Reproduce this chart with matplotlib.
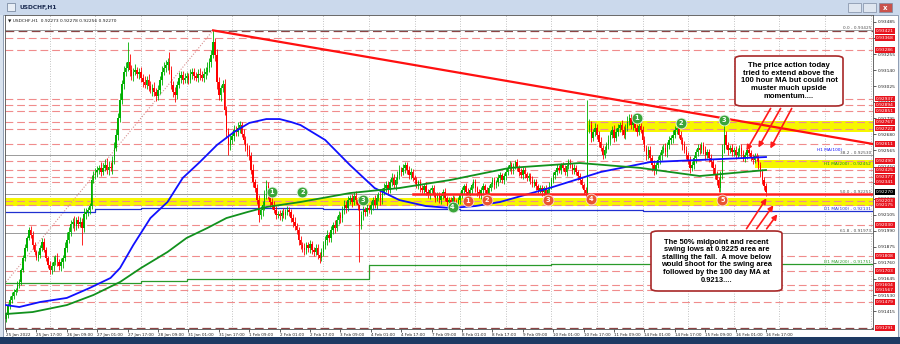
import matplotlib
matplotlib.use("Agg")
import matplotlib.pyplot as plt
import numpy as np
from matplotlib.patches import Rectangle, FancyBboxPatch, FancyArrowPatch
from matplotlib.transforms import blended_transform_factory

W, H = 900, 344

# ---- data: H1 candles, prices in 1e-5 units, one row per trading day ----
open0 = 91360
closes_by_day = [
    [91387, 91458, 91494, 91523, 91551, 91566, 91602, 91623, 91709, 91795, 91867, 91938, 91996, 91960, 91888, 91838,
     91795, 91817, 91867, 91910, 91852, 91795, 91745],
    [91709, 91738, 91766, 91795, 91766, 91738, 91766, 91795, 91867, 91924, 91981, 92039, 92053, 92024, 92067, 92039,
     92053, 92010, 92110, 92124, 92139, 92167, 92354, 92389],
    [92411, 92425, 92440, 92411, 92440, 92461, 92425, 92447, 92440, 92497, 92583, 92676, 92798, 92926, 93041, 93127,
     93156, 93199, 93141, 93098, 93127, 93141, 93113, 93127],
    [93084, 93055, 93034, 93070, 93027, 92998, 93012, 92984, 92955, 92998, 93070, 93127, 93156, 93177, 93199, 93141,
     93034, 92984, 92962, 93034, 93084, 93106, 93070, 93084],
    [93098, 93070, 93113, 93127, 93098, 93084, 93113, 93106, 93084, 93113, 93127, 93156, 93199, 93249, 93342, 93249,
     93055, 92962, 93012, 93041, 92855, 92697, 92604, 92640],
    [92669, 92712, 92697, 92726, 92747, 92683, 92640, 92597, 92568, 92525, 92425, 92339, 92296, 92210, 92103, 92139,
     92175, 92246, 92311, 92246, 92196, 92175, 92139, 92103],
    [92110, 92096, 92117, 92103, 92124, 92139, 92124, 92081, 92053, 92024, 91996, 91924, 91888, 91867, 91852, 91888,
     91867, 91895, 91852, 91838, 91867, 91816, 91795, 91838],
    [91888, 91924, 91960, 91938, 91996, 92031, 92010, 92067, 92103, 92081, 92139, 92175, 92153, 92210, 92225, 92196,
     92240, 92210, 92175, 92031, 92103, 92139, 92124, 92153],
    [92139, 92175, 92210, 92175, 92225, 92246, 92210, 92268, 92296, 92318, 92282, 92339, 92368, 92318, 92353, 92389,
     92425, 92411, 92440, 92461, 92425, 92389, 92411, 92368],
    [92353, 92318, 92339, 92296, 92282, 92311, 92268, 92246, 92282, 92296, 92253, 92225, 92246, 92210, 92240, 92268,
     92225, 92196, 92210, 92182, 92225, 92196, 92175, 92210],
    [92246, 92282, 92311, 92268, 92240, 92282, 92318, 92339, 92296, 92268, 92246, 92282, 92311, 92282, 92253, 92296,
     92325, 92353, 92318, 92339, 92368, 92389, 92353, 92382],
    [92411, 92440, 92461, 92425, 92454, 92482, 92440, 92411, 92389, 92425, 92396, 92368, 92382, 92353, 92325, 92339,
     92311, 92282, 92296, 92268, 92296, 92253, 92282, 92311],
    [92353, 92389, 92411, 92440, 92425, 92461, 92440, 92411, 92454, 92482, 92461, 92425, 92440, 92411, 92382, 92353,
     92318, 92282, 92261, 92712, 92747, 92654, 92697, 92726],
    [92676, 92626, 92583, 92533, 92569, 92604, 92640, 92676, 92712, 92654, 92697, 92726, 92747, 92712, 92676, 92726,
     92769, 92798, 92747, 92783, 92726, 92697, 92740, 92712],
    [92640, 92583, 92533, 92569, 92511, 92461, 92425, 92461, 92497, 92533, 92569, 92583, 92554, 92604, 92640, 92654,
     92676, 92712, 92726, 92676, 92640, 92604, 92569, 92533],
    [92497, 92440, 92461, 92511, 92554, 92583, 92569, 92604, 92569, 92533, 92554, 92511, 92482, 92440, 92389, 92353,
     92296, 92389, 92569, 92676, 92604, 92569, 92583, 92554],
    [92569, 92533, 92554, 92583, 92540, 92511, 92533, 92569, 92547, 92518, 92497, 92525, 92511, 92461, 92411, 92353,
     92310, 92270],
]
wick_hi_by_day = [
    [20, 15, 30, 25, 20, 15, 25, 20, 15, 20, 30, 15, 20, 25, 30, 20, 15, 25, 20, 30, 25, 20, 15],
    [30, 25, 40, 20, 35, 25, 30, 20, 45, 60, 35, 30, 25, 40, 20, 30, 35, 25, 45, 30, 20, 25, 35, 30],
    [25, 30, 20, 40, 35, 45, 50, 40, 35, 30, 45, 40, 35, 50, 30, 40, 45, 143, 60, 35, 30, 40, 25, 30],
    [35, 30, 40, 25, 45, 35, 30, 40, 25, 35, 30, 40, 45, 35, 30, 71, 30, 25, 35, 30, 40, 25, 30, 35],
    [30, 25, 35, 30, 25, 30, 35, 40, 30, 45, 35, 40, 30, 35, 83, 30, 40, 35, 25, 30, 35, 25, 30, 35],
    [30, 35, 25, 40, 30, 25, 35, 30, 25, 35, 30, 40, 25, 30, 35, 25, 30, 35, 43, 25, 30, 35, 30, 25],
    [25, 30, 20, 35, 25, 30, 20, 25, 30, 35, 25, 20, 30, 25, 35, 20, 25, 30, 20, 25, 30, 25, 20, 30],
    [30, 25, 35, 20, 30, 25, 35, 30, 25, 20, 30, 35, 25, 30, 20, 25, 30, 35, 25, 40, 30, 25, 20, 30],
    [25, 30, 20, 35, 30, 25, 40, 30, 35, 25, 30, 20, 35, 30, 25, 30, 35, 25, 30, 20, 25, 30, 25, 20],
    [20, 25, 15, 25, 20, 15, 25, 20, 15, 20, 25, 15, 20, 25, 15, 20, 25, 15, 20, 25, 20, 15, 20, 25],
    [20, 25, 15, 20, 25, 20, 15, 25, 20, 15, 20, 25, 20, 15, 25, 20, 15, 25, 20, 15, 25, 20, 15, 20],
    [25, 20, 30, 25, 20, 15, 25, 20, 30, 25, 20, 15, 25, 20, 30, 25, 20, 15, 25, 20, 15, 25, 20, 25],
    [20, 25, 15, 25, 20, 15, 25, 20, 15, 25, 20, 15, 25, 20, 15, 25, 20, 15, 20, 214, 40, 30, 25, 35],
    [30, 25, 35, 20, 30, 25, 35, 30, 25, 35, 30, 25, 20, 35, 30, 25, 40, 30, 25, 30, 35, 25, 30, 20],
    [25, 30, 20, 25, 30, 20, 35, 25, 30, 20, 25, 30, 35, 25, 30, 20, 35, 30, 25, 30, 25, 20, 30, 25],
    [20, 25, 30, 25, 20, 25, 30, 20, 25, 30, 20, 25, 30, 20, 25, 30, 20, 30, 40, 122, 30, 25, 20, 25],
    [20, 25, 30, 20, 25, 30, 20, 25, 30, 20, 25, 20, 25, 20, 25, 20, 25, 20],
]
wick_lo_by_day = [
    [23, 20, 25, 20, 25, 20, 15, 25, 20, 15, 20, 25, 15, 20, 25, 20, 15, 20, 25, 20, 15, 20, 25],
    [25, 30, 35, 20, 25, 30, 35, 40, 25, 30, 20, 25, 30, 35, 25, 30, 20, 122, 30, 35, 25, 30, 20, 25],
    [30, 35, 25, 30, 20, 25, 30, 35, 25, 40, 30, 25, 35, 30, 25, 35, 30, 25, 40, 30, 35, 25, 30, 35],
    [30, 35, 25, 30, 35, 25, 40, 30, 35, 25, 30, 35, 25, 30, 35, 25, 30, 35, 50, 30, 25, 35, 30, 25],
    [35, 30, 25, 35, 30, 25, 30, 35, 25, 30, 35, 25, 30, 35, 25, 40, 50, 35, 40, 30, 35, 40, 71, 35],
    [30, 35, 25, 30, 35, 25, 30, 35, 40, 30, 25, 35, 30, 25, 50, 30, 40, 35, 30, 25, 35, 30, 25, 30],
    [25, 30, 35, 25, 30, 20, 25, 30, 35, 25, 30, 35, 25, 30, 35, 25, 30, 35, 25, 30, 20, 30, 35, 25],
    [30, 25, 35, 30, 25, 30, 35, 25, 30, 35, 25, 30, 35, 25, 30, 35, 25, 30, 35, 264, 30, 35, 25, 30],
    [25, 30, 35, 25, 30, 25, 35, 30, 25, 30, 35, 25, 30, 25, 35, 30, 25, 30, 25, 35, 30, 25, 30, 25],
    [25, 20, 30, 25, 20, 30, 25, 20, 30, 25, 20, 30, 25, 20, 30, 25, 20, 30, 25, 20, 30, 25, 20, 25],
    [25, 20, 30, 25, 20, 25, 30, 20, 25, 30, 20, 25, 30, 20, 25, 30, 20, 25, 30, 20, 25, 30, 20, 25],
    [30, 25, 20, 25, 30, 20, 25, 30, 20, 25, 30, 20, 25, 30, 20, 25, 30, 20, 25, 30, 20, 25, 30, 20],
    [25, 20, 30, 25, 20, 30, 25, 20, 30, 25, 20, 30, 25, 20, 30, 25, 20, 30, 40, 30, 25, 30, 20, 25],
    [30, 35, 25, 30, 20, 25, 30, 35, 25, 30, 20, 25, 30, 35, 25, 30, 20, 25, 30, 35, 25, 30, 20, 25],
    [30, 25, 35, 30, 25, 40, 35, 30, 25, 30, 35, 25, 30, 35, 25, 30, 35, 25, 30, 25, 30, 35, 25, 30],
    [30, 35, 25, 30, 35, 25, 30, 25, 30, 35, 25, 30, 35, 40, 30, 35, 30, 25, 30, 25, 30, 35, 25, 30],
    [25, 30, 20, 25, 30, 20, 25, 30, 20, 25, 30, 25, 20, 30, 35, 30, 25, 30],
]

# hourly moving averages (bar index, price)
ma100_bar = [0, 7, 18, 32, 44, 55, 60, 67, 76, 85, 93, 102, 111, 120, 128, 137, 144, 150, 155, 168, 181, 194, 207,
             221, 234, 247, 260, 286, 313, 339, 365, 400]
ma100_val = [91458, 91444, 91480, 91509, 91580, 91652, 91723, 91888, 92081, 92196, 92368, 92482, 92604, 92697,
             92762, 92790, 92790, 92769, 92747, 92640, 92461, 92296, 92210, 92167, 92153, 92167, 92196, 92296, 92411,
             92482, 92497, 92518]
ma200_bar = [0, 14, 32, 46, 60, 71, 85, 95, 106, 116, 127, 137, 155, 181, 207, 234, 265, 302, 334, 365, 400]
ma200_val = [91394, 91408, 91458, 91530, 91623, 91723, 91838, 91938, 92010, 92081, 92124, 92160, 92196, 92260,
             92296, 92354, 92440, 92475, 92440, 92382, 92425]

day_start = [0, 23, 47, 71, 95, 119, 143, 167, 191, 215, 239, 263, 287, 311, 335, 359, 383, 407, 431, 455]
d1_ma100 = [92127, 92127, 92144, 92152, 92152, 92152, 92150, 92148, 92146, 92144, 92142, 92140, 92138, 92136,
            92134, 92132, 92131]
d1_ma200 = [91614, 91614, 91614, 91633, 91643, 91643, 91643, 91643, 91745, 91746, 91747, 91748, 91749, 91750,
            91750, 91751, 91751]

tick_bars = list(range(0, 401, 16))
tick_labels = ["25 Jan 2022", "25 Jan 17:00", "26 Jan 09:00", "27 Jan 01:00", "27 Jan 17:00", "28 Jan 09:00",
               "31 Jan 01:00", "31 Jan 17:00", "1 Feb 09:00", "2 Feb 01:00", "2 Feb 17:00", "3 Feb 09:00",
               "4 Feb 01:00", "4 Feb 17:00", "7 Feb 09:00", "8 Feb 01:00", "8 Feb 17:00", "9 Feb 09:00",
               "10 Feb 01:00", "10 Feb 17:00", "11 Feb 09:00", "14 Feb 01:00", "14 Feb 17:00", "15 Feb 09:00",
               "16 Feb 01:00", "16 Feb 17:00"]

price_ticks = [93485 - 115 * k for k in range(19)]
level_lines = [93368, 93286, 92937, 92894, 92851, 92767, 92722, 92611, 92490, 92425, 92377, 92341, 92203, 92175,
               92030, 91808, 91703, 91604, 91567, 91479]
dark_levels = [93421, 91291]
red_labels = level_lines + dark_levels
last_price = 92270

fib_levels = [93425, 92530, 92251, 91973]
fib_names = ["0.0", "38.2", "50.0", "61.8"]
fib_line = ([-33, 109], [91077, 93425])
trend_line = ([109, 456.5], [93425, 92611])
support_line = ([214, 456.5], [92251, 92251])

yellow_zones = [(306, 92775, 92700), (394, 92500, 92440), (-1, 92225, 92165)]

green_marks = [("1", 140, 92268), ("2", 156, 92268), ("3", 188, 92210), ("4", 235, 92160),
               ("1", 332, 92798), ("2", 355, 92762), ("3", 378, 92783)]
red_marks = [("1", 243, 92203), ("2", 253, 92210), ("3", 285, 92210), ("4", 308, 92218), ("5", 377, 92210)]

note_top = "The price action today\ntried to extend above the\n100 hour MA but could not\nmuster much upside\nmomentum...."
note_bot = ("The 50% midpoint and recent\nswing lows at 0.9225 area are\nstalling the fall.  A move below\n"
            "would shoot for the swing area\nfollowed by the 100 day MA at\n0.9213....")

# ---- figure ----
fig = plt.figure(figsize=(9, 3.44), dpi=100)
fig.patch.set_facecolor('#d9e3ef')


def frect(x0, y0, x1, y1, z=-5, **kw):
    fig.add_artist(Rectangle((x0 / W, 1 - y1 / H), (x1 - x0) / W, (y1 - y0) / H,
                             transform=fig.transFigure, zorder=z, **kw))


def fp(x, y):
    return (x / W, 1 - y / H)


frect(0, 0, 900, 15, fc='#cbd9ec', ec='none')
frect(3, 15, 898, 337, fc='white', ec='#8090a8', lw=0.6)
frect(0, 337, 900, 344, fc='#1e3a63', ec='none')
fig.text(*fp(20, 7.5), "USDCHF,H1", fontsize=4.3, color='#1a2a50', va='center', weight='bold')
frect(7, 3, 15, 11, fc='#e8eef6', ec='#6b7c96', lw=0.5)
for bx, col in [(848, '#dfe6f0'), (863, '#dfe6f0'), (879, '#c9524c')]:
    frect(bx, 3, bx + 13, 12, fc=col, ec='#7d8ba3', lw=0.5)
fig.text(*fp(885.5, 7.5), "x", fontsize=5, color='white', ha='center', va='center', weight='bold')

# chart area spans x 5..873 px, y 15..329 px
ax = fig.add_axes([5 / W, 1 - 329 / H, 868 / W, 314 / H])
ax.set_facecolor('white')
ax.set_xlim(-0.53, 456.3)
ax.set_ylim(0.912866, 0.935351)
for s in ax.spines.values():
    s.set_color('#505050')
    s.set_linewidth(0.6)

c = np.array(sum(closes_by_day, [])) / 1e5
o = np.r_[open0 / 1e5, c[:-1]]
hi = np.maximum(o, c) + np.array(sum(wick_hi_by_day, [])) / 1e5
lo = np.minimum(o, c) - np.array(sum(wick_lo_by_day, [])) / 1e5
x = np.arange(len(c))
cols = np.where(c >= o, '#00b000', '#ff0000')

for d in day_start[1:]:
    ax.axvline(d, color='#b0b0b0', lw=0.6, ls=(0, (1, 2)), zorder=0)

for x0, top, bot in yellow_zones:
    ax.add_patch(Rectangle((x0, bot / 1e5), 470 - x0, (top - bot) / 1e5, fc='#f6f600', ec='none', zorder=1))

for lv in level_lines:
    ax.axhline(lv / 1e5, color='#f08c8c', lw=0.8, ls=(0, (7, 3.5)), zorder=1.2)
for lv in dark_levels:
    ax.axhline(lv / 1e5, color='#8c4444', lw=0.9, ls=(0, (7, 3.5)), zorder=1.2)

for lv in fib_levels:
    ax.axhline(lv / 1e5, color='#9a9a9a', lw=0.7, zorder=1.3)
ax.plot(fib_line[0], np.array(fib_line[1]) / 1e5, color='#d89090', lw=0.8, ls=(0, (1, 1.5)), zorder=1.3)

ax.step(day_start[:len(d1_ma100)] + [457], np.array(d1_ma100 + d1_ma100[-1:]) / 1e5, where='post',
        color='#2030d0', lw=0.9, zorder=1.4)
ax.step(day_start[:len(d1_ma200)] + [457], np.array(d1_ma200 + d1_ma200[-1:]) / 1e5, where='post',
        color='#2a9a2a', lw=0.9, zorder=1.4)

ax.vlines(x, lo, hi, colors=cols, lw=0.6, zorder=2)
ax.bar(x, np.maximum(np.abs(c - o), 0.00002), bottom=np.minimum(o, c), width=0.75, color=cols, lw=0, zorder=2)

ax.plot(ma100_bar, np.array(ma100_val) / 1e5, color='#1010ff', lw=1.3, zorder=3)
ax.plot(ma200_bar, np.array(ma200_val) / 1e5, color='#11911d', lw=1.3, zorder=3)

ax.plot(trend_line[0], np.array(trend_line[1]) / 1e5, color='#ff1010', lw=1.6, zorder=3.2)
ax.plot(support_line[0], np.array(support_line[1]) / 1e5, color='#ff2020', lw=1.8, zorder=3.2)

for marks, fc, ec in [(green_marks, '#3aa53a', '#e8f5e8'), (red_marks, '#ea5532', '#fbe0d8')]:
    for t, bx, p in marks:
        ax.plot(bx, p / 1e5, 'o', ms=7.8, mfc=fc, mec=ec, mew=0.6, zorder=4)
        ax.text(bx, p / 1e5, t, color='white', fontsize=4.8, weight='bold', ha='center', va='center', zorder=5)

lab_x = 455.3
for lv, nm in zip(fib_levels, fib_names):
    ax.text(lab_x, lv / 1e5 + 0.00003, f"{nm} - {lv / 1e5:.5f}", fontsize=3.1, color='#505050',
            ha='right', va='bottom', zorder=5)
ax.text(440, 0.92552, "H1 MA(100)", fontsize=3.1, color='#1010ff', ha='right', va='bottom', zorder=5)
ax.text(lab_x, 0.92452, "H1 MA(200) - 0.92452", fontsize=3.1, color='#11911d', ha='right', va='bottom', zorder=5)
ax.text(lab_x, 0.92134, "D1 MA(100) - 0.92131", fontsize=3.1, color='#2030d0', ha='right', va='bottom', zorder=5)
ax.text(lab_x, 0.91754, "D1 MA(200) - 0.91751", fontsize=3.1, color='#2a9a2a', ha='right', va='bottom', zorder=5)

ax.yaxis.tick_right()
ax.set_yticks([p / 1e5 for p in price_ticks])
ax.set_yticklabels([f"{p / 1e5:.5f}" for p in price_ticks])
ax.tick_params(axis='y', length=2, width=0.5, pad=1.2, labelsize=3.2, colors='#202020')
ax.set_xticks(tick_bars)
ax.set_xticklabels(tick_labels)
ax.tick_params(axis='x', length=2, width=0.5, pad=1.2, labelsize=3.0, colors='#202020')
for lab in ax.get_xticklabels():
    lab.set_ha('left')

tr = blended_transform_factory(ax.transAxes, ax.transData)
for lv in red_labels:
    ax.text(1.0035, lv / 1e5, f"{lv / 1e5:.5f}", transform=tr, fontsize=3.2, color='white', va='center',
            ha='left', bbox=dict(boxstyle='square,pad=0.2', fc='#e8141e', ec='none'), zorder=6)
ax.text(1.0035, last_price / 1e5, f"{last_price / 1e5:.5f}", transform=tr, fontsize=3.2, color='white',
        va='center', ha='left', bbox=dict(boxstyle='square,pad=0.2', fc='black', ec='none'), zorder=6)

ax.text(3 / 868, 1 - 5 / 314, "\u25bc USDCHF,H1  0.92273 0.92278 0.92256 0.92270", transform=ax.transAxes,
        fontsize=3.2, color='#202020', va='center', ha='left')

for (x0, y0, x1, y1), txt, fs in [((735, 56, 843, 106), note_top, 5.6), ((651, 231, 782, 291), note_bot, 5.4)]:
    fig.add_artist(FancyBboxPatch(fp(x0, y1), (x1 - x0) / W, (y1 - y0) / H,
                                  boxstyle='round,pad=0,rounding_size=0.008', transform=fig.transFigure,
                                  fc='white', ec='#a82828', lw=1.2, zorder=7))
    fig.text(*fp((x0 + x1) / 2, (y0 + y1) / 2), txt, fontsize=fs, family='Liberation Sans', weight='bold',
             ha='center', va='center', linespacing=1.12, zorder=8)

arrows = [((772, 106), (745, 153)), ((782, 106), (757, 150)), ((793, 106), (769, 151)),
          ((745, 231), (768, 196)), ((755, 231), (775, 203)), ((765, 231), (779, 212))]
for (x0, y0), (x1, y1) in arrows:
    fig.add_artist(FancyArrowPatch(fp(x0, y0), fp(x1, y1), transform=fig.transFigure,
                                   arrowstyle='-|>,head_length=3,head_width=1.5',
                                   color='#ff1a1a', lw=1.2, zorder=6.5))

fig.savefig("out.png", dpi=100)
